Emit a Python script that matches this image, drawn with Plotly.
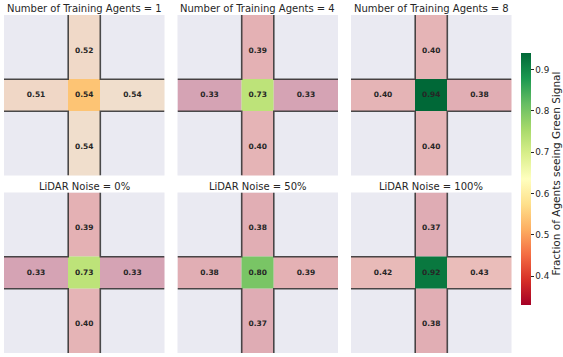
import plotly.graph_objects as go

# Panel titles (row major)
titles = [
    "Number of Training Agents = 1",
    "Number of Training Agents = 4",
    "Number of Training Agents = 8",
    "LiDAR Noise = 0%",
    "LiDAR Noise = 50%",
    "LiDAR Noise = 100%",
]

# Fraction of agents seeing green, per approach of the intersection
top_vals = [0.52, 0.39, 0.40, 0.39, 0.38, 0.37]
left_vals = [0.51, 0.33, 0.40, 0.33, 0.38, 0.42]
center_vals = [0.54, 0.73, 0.94, 0.73, 0.80, 0.92]
right_vals = [0.54, 0.33, 0.38, 0.33, 0.39, 0.43]
bottom_vals = [0.54, 0.40, 0.40, 0.40, 0.37, 0.38]

CB_TITLE = "Fraction of Agents seeing Green Signal"
CB_TICKS = [0.4, 0.5, 0.6, 0.7, 0.8, 0.9]

W, H = 563, 357
BG = "#eaeaf2"
TXT = "#262626"
FONT = "DejaVu Sans"

# grid of the intersection: arms are 2 units long, the box in the middle 1 unit
EDGE = 5
LO, HI = 2, 3
EDGES = [0, LO, HI, EDGE]

# panel placement in pixels (left, top, size)
COL_LEFT = [4, 177.5, 351]
ROW_TOP = [15, 192.5]
SIZE = 160.5
TITLE_Y = [8.5, 186]

fig = go.Figure()


def ax_name(kind, i):
    return kind if i == 0 else f"{kind}{i + 1}"


for i in range(6):
    r, c = divmod(i, 3)
    xa, ya = ax_name("x", i), ax_name("y", i)

    # arms, drawn faint (row 0 is the bottom of the plot)
    z_arms = [
        [None, bottom_vals[i], None],
        [left_vals[i], None, right_vals[i]],
        [None, top_vals[i], None],
    ]
    fig.add_trace(go.Heatmap(
        z=z_arms, x=EDGES, y=EDGES, coloraxis="coloraxis",
        opacity=0.3, xaxis=xa, yaxis=ya, hoverinfo="skip",
    ))
    # the center box, full colour
    z_mid = [[None] * 3, [None, center_vals[i], None], [None] * 3]
    fig.add_trace(go.Heatmap(
        z=z_mid, x=EDGES, y=EDGES, coloraxis="coloraxis",
        xaxis=xa, yaxis=ya, hoverinfo="skip",
    ))

    # outline of the cross
    ox = [0, LO, LO, None, EDGE, HI, HI, None, 0, LO, LO, None, EDGE, HI, HI]
    oy = [HI, HI, EDGE, None, HI, HI, EDGE, None, LO, LO, 0, None, LO, LO, 0]
    fig.add_trace(go.Scatter(
        x=ox, y=oy, mode="lines", xaxis=xa, yaxis=ya,
        line=dict(color="rgba(45,45,45,0.85)", width=1.6),
        hoverinfo="skip", showlegend=False,
    ))

    # value labels
    mid = (LO + HI) / 2
    vals = [top_vals[i], left_vals[i], center_vals[i], right_vals[i], bottom_vals[i]]
    tx = [mid, LO / 2, mid, (HI + EDGE) / 2, mid]
    ty = [(HI + EDGE) / 2 - 0.11, mid, mid, mid, LO / 2 - 0.11]
    fig.add_trace(go.Scatter(
        x=tx, y=ty, mode="text", text=[f"{v:.2f}" for v in vals],
        textfont=dict(family=FONT, size=7.5, color=TXT, weight="bold"),
        xaxis=xa, yaxis=ya, hoverinfo="skip", showlegend=False,
    ))

    left, top = COL_LEFT[c], ROW_TOP[r]
    axis_style = dict(range=[0, EDGE], showgrid=False, zeroline=False,
                      showticklabels=False, ticks="", showline=False, fixedrange=True)
    fig.layout[ax_name("xaxis", i)] = dict(
        domain=[left / W, (left + SIZE) / W], anchor=ya, **axis_style)
    fig.layout[ax_name("yaxis", i)] = dict(
        domain=[1 - (top + SIZE) / H, 1 - top / H], anchor=xa, **axis_style)

    fig.add_annotation(
        text=titles[i], xref="paper", yref="paper",
        x=(left + SIZE / 2) / W, y=1 - TITLE_Y[r] / H,
        xanchor="center", yanchor="middle", showarrow=False,
        font=dict(family=FONT, size=10, color=TXT),
    )

# colorbar label, placed by hand to the right of the tick labels
fig.add_annotation(
    text=CB_TITLE, xref="paper", yref="paper",
    x=555.5 / W, y=1 - 174 / H, textangle=-90,
    xanchor="center", yanchor="middle", showarrow=False,
    font=dict(family=FONT, size=10.5, color=TXT),
)

fig.update_layout(
    width=W, height=H,
    margin=dict(l=0, r=0, t=0, b=0, autoexpand=False),
    paper_bgcolor="white", plot_bgcolor=BG,
    showlegend=False,
    coloraxis=dict(
        colorscale="RdYlGn", cmin=min(min(left_vals), min(right_vals)), cmax=max(center_vals),
        colorbar=dict(
            x=521 / W, xanchor="left", y=1 - 179 / H, yanchor="middle",
            xpad=0, ypad=0,
            thickness=10, len=252, lenmode="pixels", outlinewidth=0,
            tickvals=CB_TICKS, ticktext=[f"{t:.1f}" for t in CB_TICKS],
            ticks="outside", ticklen=3, tickwidth=1, tickcolor=TXT,
            tickfont=dict(family=FONT, size=8.8, color=TXT),
        ),
    ),
)

# the page's default body margin would push the figure 8px down and right
fig.write_html(
    "out.html",
    config={"displayModeBar": False},
    post_script="document.body.style.margin = '0';",
)
